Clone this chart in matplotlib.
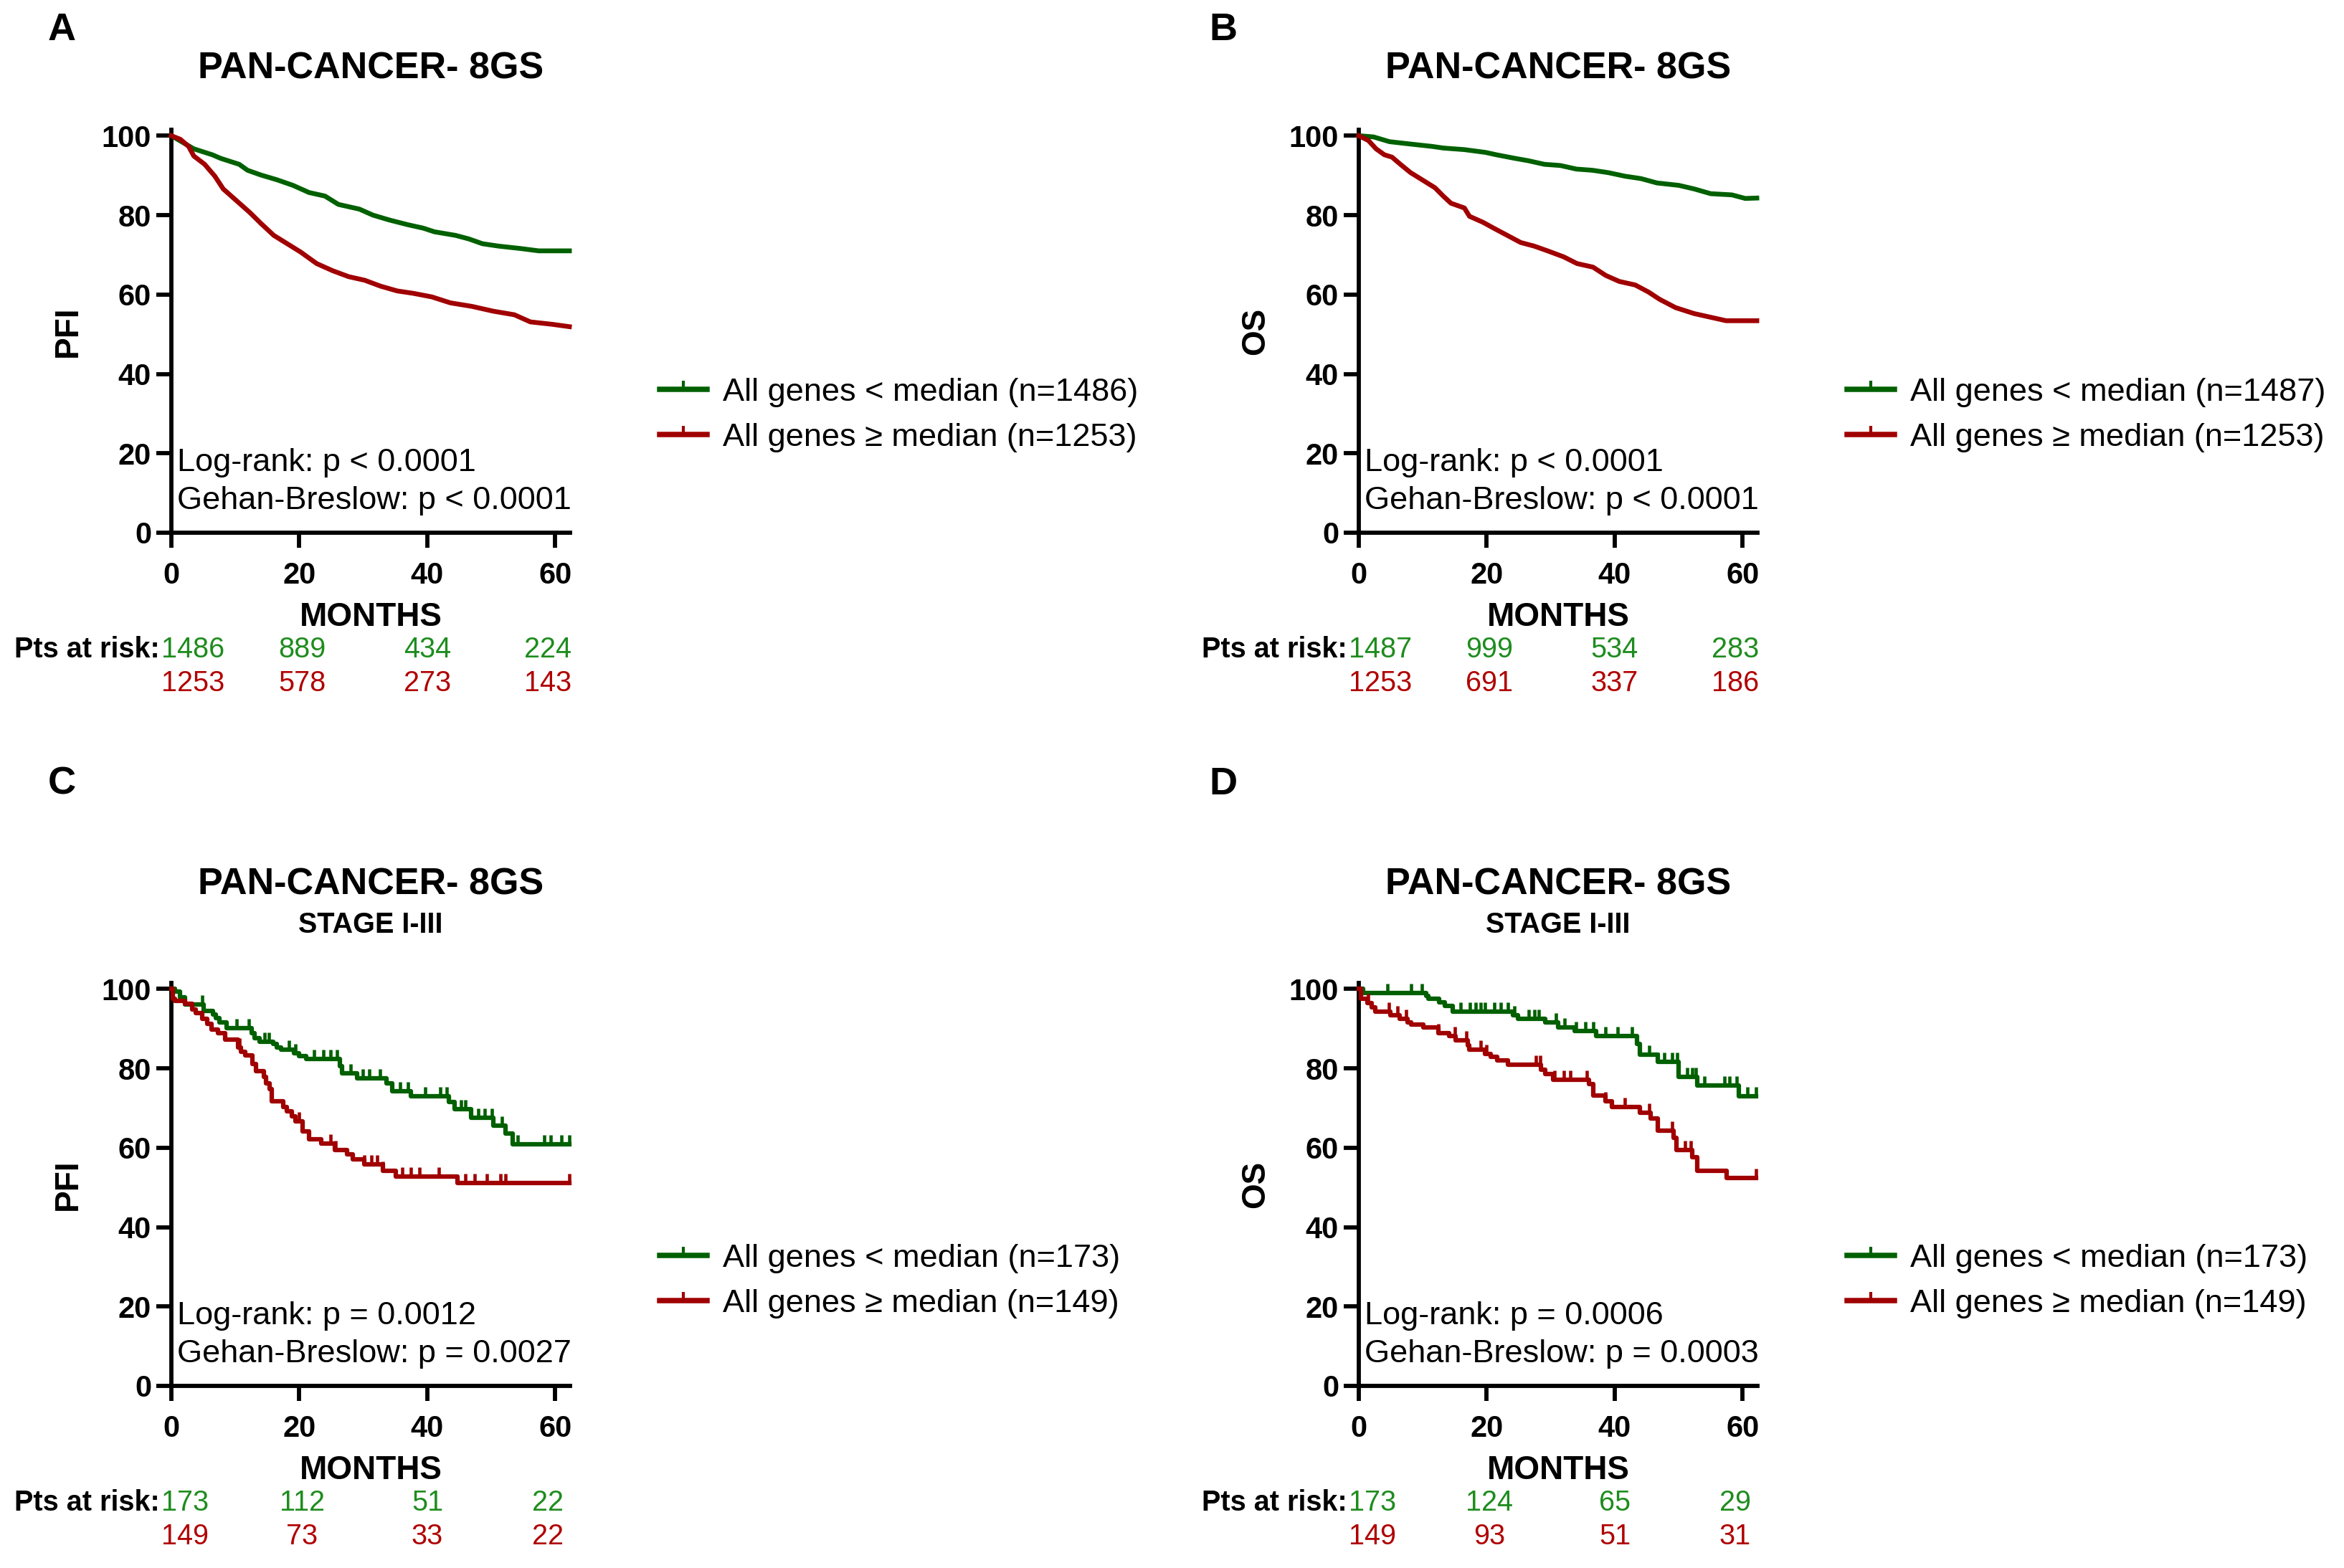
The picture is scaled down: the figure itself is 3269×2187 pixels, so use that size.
import numpy as np
import matplotlib
matplotlib.use("Agg")
import matplotlib.pyplot as plt
from matplotlib.lines import Line2D

plt.rcParams['font.family'] = ['Liberation Sans', 'DejaVu Sans']

# colours
GREEN = '#006000'
RED = '#A00000'
GREEN_TXT = '#1E8C1E'
RED_TXT = '#B00000'

# ---- Panel A: PFI, all stages (months, % surviving) ----
a_t_lo = [0, 3.5, 6.4, 7.7, 10.6, 11.9, 14, 16.5, 19, 21.5, 24, 26.1, 29.4, 31.5, 34,
          36.9, 39.4, 41.1, 44.4, 46.5, 48.6, 51.1, 54.5, 57.4, 62.2]
a_s_lo = [100, 96.7, 95.2, 94.3, 92.8, 91.3, 90.1, 88.9, 87.5, 85.7, 84.8, 82.7, 81.5, 80,
          78.8, 77.6, 76.7, 75.8, 74.9, 74, 72.8, 72.2, 71.6, 71, 71]
a_t_hi = [0, 1.4, 2.7, 3.5, 5.2, 6.8, 8.1, 10.2, 12.3, 14, 16, 18.1, 20.2, 22.7, 25.2,
          27.7, 30.2, 32.7, 35.3, 37.8, 40.7, 43.6, 47, 50.3, 53.6, 56.1, 59.5, 62.2]
a_s_hi = [100, 99.1, 97.3, 94.9, 92.8, 89.8, 86.6, 83.6, 80.6, 77.9, 74.9, 72.8, 70.7,
          67.8, 66, 64.5, 63.6, 62.1, 60.9, 60.3, 59.4, 57.9, 57, 55.8, 54.9, 53.1, 52.5, 51.9]
a_risk_lo = [1486, 889, 434, 224]
a_risk_hi = [1253, 578, 273, 143]

# ---- Panel B: OS, all stages ----
b_t_lo = [0, 2.3, 4.8, 8.1, 11.5, 13.2, 16.5, 19.8, 21.5, 24.4, 26.5, 29, 31.5, 34, 36.5,
          39, 41.6, 44.1, 46.6, 50, 52.4, 55, 58.3, 60.4, 62.2]
b_s_lo = [100, 99.7, 98.5, 97.9, 97.3, 96.9, 96.5, 95.8, 95.2, 94.3, 93.7, 92.8, 92.5,
          91.6, 91.3, 90.7, 89.8, 89.2, 88.1, 87.5, 86.6, 85.4, 85.1, 84.2, 84.3]
b_t_hi = [0, 1.5, 2.7, 4, 5.2, 6.5, 8.1, 10.2, 11.9, 13.2, 14.4, 16.5, 17.3, 19.4, 21.1,
          23.2, 25.3, 27.4, 29.5, 32, 34.1, 36.6, 38.6, 40.7, 43.2, 45.3, 47, 49.5, 52.4,
          54.9, 57.4, 62.2]
b_s_hi = [100, 98.8, 96.7, 95.2, 94.6, 92.8, 90.7, 88.6, 86.9, 84.8, 83, 81.8, 79.7, 78.2,
          76.7, 74.9, 73.1, 72.2, 71, 69.5, 67.8, 66.9, 64.8, 63.3, 62.4, 60.6, 58.8, 56.7,
          55.2, 54.3, 53.4, 53.4]
b_risk_lo = [1487, 999, 534, 283]
b_risk_hi = [1253, 691, 337, 186]

# ---- Panel C: PFI, stage I-III (step times and levels) ----
c_t_lo = [0, 0.6, 1.3, 2.1, 5.0, 6.5, 6.9, 7.5, 8.6, 12.5, 13.0, 13.8, 15.9, 16.5, 17.1,
          19.2, 20.0, 21.1, 26.3, 26.7, 29.0, 33.6, 34.5, 37.4, 43.4, 44.3, 46.8, 50.3,
          52.2, 53.3]
c_s_lo = [100, 99.3, 97.8, 96.0, 94.5, 93.6, 92.7, 91.5, 90.2, 88.8, 87.6, 86.7, 86.1,
          85.3, 84.7, 83.8, 83.0, 82.4, 80.5, 78.7, 77.5, 76.3, 74.3, 73.0, 71.5, 69.7,
          67.6, 65.6, 63.5, 60.9]
c_cens_lo = [4.8, 10.2, 12.1, 14.6, 15.2, 18.4, 19.4, 22.3, 23.8, 24.9, 25.9, 28, 29.9,
             30.9, 32.6, 35.7, 37, 39.7, 42, 43, 45.3, 45.9, 48, 49, 50.1, 51.6, 54.1,
             58.3, 59.3, 61, 62.2]
c_t_hi = [0, 0.2, 0.6, 2.1, 3.3, 3.8, 4.8, 5.6, 6.3, 7.3, 8.4, 10.4, 10.9, 11.5, 12.7,
          13.2, 14.4, 14.8, 15.3, 15.7, 17.5, 18.0, 18.8, 19.4, 20.5, 21.5, 23.4, 25.5,
          27.4, 28.4, 30.1, 33.0, 35.1, 44.7]
c_s_hi = [100, 97.5, 96.9, 96.3, 94.8, 93.9, 92.5, 91.2, 89.7, 88.8, 87.2, 85.3, 84.2,
          83.3, 81.1, 79.3, 77.8, 76.3, 74.7, 71.7, 70.3, 69.1, 67.9, 66.7, 64.2, 62.2,
          61.0, 59.5, 58.3, 57.1, 55.8, 54.1, 52.8, 51.2]
c_cens_hi = [10.7, 20, 24.9, 25.7, 30.1, 31.3, 32.2, 33, 36.1, 37.4, 38.8, 41.8, 45.9,
             47.4, 49.3, 51.4, 52.2, 62.2]
c_end = 62.2
c_risk_lo = [173, 112, 51, 22]
c_risk_hi = [149, 73, 33, 22]

# ---- Panel D: OS, stage I-III ----
d_t_lo = [0, 0.7, 10.5, 10.9, 12.6, 13.4, 14.7, 24.1, 24.9, 29.1, 31.2, 33.7, 37.1,
          43.5, 43.9, 46.7, 50.0, 52.9, 59.4]
d_s_lo = [100, 99.0, 98.2, 97.6, 96.6, 95.7, 94.2, 93.3, 92.4, 91.5, 90.3, 89.4, 88.1,
          86.1, 83.5, 81.7, 77.8, 75.6, 72.9]
d_cens_lo = [4.5, 8.2, 9.9, 15.9, 17.4, 18.3, 19.1, 19.7, 21.2, 22.2, 23.3, 24.3, 26.6,
             27.4, 28.1, 30.8, 32.2, 33.9, 35.4, 36.6, 38.5, 40.4, 42.7, 45.4, 46.7, 47.7,
             49, 49.8, 51.3, 52.1, 52.7, 54, 57.1, 57.9, 59, 60.7, 62.1]
d_t_hi = [0, 0.3, 1.3, 2.0, 2.6, 4.9, 6.4, 7.6, 8.2, 10.1, 12.4, 14.1, 15.1, 17.0, 17.2,
          19.7, 20.6, 21.6, 23.3, 28.5, 29.1, 30.4, 36.0, 36.6, 38.5, 39.6, 43.9, 45.6,
          46.7, 49.2, 49.6, 52.1, 52.9, 57.5]
d_s_hi = [100, 97.5, 96.4, 95.4, 94.2, 93.3, 92.5, 91.6, 91.0, 90.3, 88.8, 88.1, 87.0,
          85.8, 84.7, 83.6, 82.9, 82.0, 80.9, 79.6, 78.5, 77.2, 76.0, 73.1, 71.7, 70.3,
          68.8, 67.3, 64.3, 62.5, 59.4, 57.6, 54.2, 52.4]
d_cens_hi = [1.5, 4.7, 6.1, 7.4, 12.4, 15, 16.8, 19.1, 19.9, 27.7, 28.3, 30.6, 32, 33,
             35.6, 38.5, 41.6, 45.4, 49, 51, 51.9, 62.1]
d_end = 62.1
d_risk_lo = [173, 124, 65, 29]
d_risk_hi = [149, 93, 51, 31]

risk_months = [-1.6, 20.4, 40.0, 58.8]
risk_ha = ['left', 'center', 'center', 'center']

TITLE = 'PAN-CANCER- 8GS'
SUBTITLE = 'STAGE I-III'

W, H = 3269, 2187
fig = plt.figure(figsize=(W / 300, H / 300), dpi=300)

ax_w, ax_h = 556 / W, 562 / H
ax_a = fig.add_axes([239 / W, (H - 743) / H, ax_w, ax_h])
ax_b = fig.add_axes([1895 / W, (H - 743) / H, ax_w, ax_h])
ax_c = fig.add_axes([239 / W, (H - 1933) / H, ax_w, ax_h])
ax_d = fig.add_axes([1895 / W, (H - 1933) / H, ax_w, ax_h])


def step_value(t, s, x):
    idx = np.searchsorted(t, x, side='right') - 1
    return np.asarray(s)[idx]


def draw_panel(ax, t_lo, s_lo, t_hi, s_hi, ylabel, n_lo, n_hi, pvals, risk_lo, risk_hi,
               stage=False, cens_lo=None, cens_hi=None, end=None, leg_y=0.292):
    if stage:
        ax.plot(list(t_lo) + [end], list(s_lo) + [s_lo[-1]], color=GREEN, lw=1.5,
                drawstyle='steps-post', clip_on=False, zorder=3)
        ax.plot(list(t_hi) + [end], list(s_hi) + [s_hi[-1]], color=RED, lw=1.5,
                drawstyle='steps-post', clip_on=False, zorder=3)
        ax.plot(cens_lo, step_value(t_lo, s_lo, cens_lo), ls='none', marker=2, ms=3.2,
                mew=1.1, color=GREEN, clip_on=False, zorder=3)
        ax.plot(cens_hi, step_value(t_hi, s_hi, cens_hi), ls='none', marker=2, ms=3.2,
                mew=1.1, color=RED, clip_on=False, zorder=3)
    else:
        ax.plot(t_lo, s_lo, color=GREEN, lw=1.6, clip_on=False, zorder=3)
        ax.plot(t_hi, s_hi, color=RED, lw=1.6, clip_on=False, zorder=3)

    ax.set_xlim(0, 62.3)
    ax.set_ylim(0, 101.5)
    ax.set_xticks([0, 20, 40, 60])
    ax.set_yticks([0, 20, 40, 60, 80, 100])
    for side in ['top', 'right']:
        ax.spines[side].set_visible(False)
    for side in ['left', 'bottom']:
        ax.spines[side].set_linewidth(1.4)
    ax.tick_params(axis='both', length=5, width=1.4, labelsize=10)
    ax.tick_params(axis='x', pad=4.5)
    ax.tick_params(axis='y', pad=1.7)
    for lab in ax.get_xticklabels() + ax.get_yticklabels():
        lab.set_fontweight('bold')
    ax.set_xlabel('MONTHS', fontsize=11, fontweight='bold', labelpad=4)
    ax.set_ylabel(ylabel, fontsize=11, fontweight='bold', labelpad=6)

    ax.text(0.9, 17.6, 'Log-rank: p ' + pvals[0], fontsize=10.85, ha='left', va='center')
    ax.text(0.9, 8.1, 'Gehan-Breslow: p ' + pvals[1], fontsize=10.85, ha='left',
            va='center')

    handles = [Line2D([], [], color=GREEN, lw=1.8, marker=2, ms=3, mew=1.0),
               Line2D([], [], color=RED, lw=1.8, marker=2, ms=3, mew=1.0)]
    labels = ['All genes < median (n=%d)' % n_lo, 'All genes \u2265 median (n=%d)' % n_hi]
    ax.legend(handles, labels, loc='center left', bbox_to_anchor=(1.225, leg_y),
              frameon=False, fontsize=10.85, handlelength=1.45, handletextpad=0.5,
              labelspacing=0.47, borderpad=0, borderaxespad=0, numpoints=1)

    ax.text(-1.8, -29.5, 'Pts at risk:', fontsize=9.5, fontweight='bold', ha='right',
            va='center')
    for x, ha, v_lo, v_hi in zip(risk_months, risk_ha, risk_lo, risk_hi):
        ax.text(x, -29.5, str(v_lo), color=GREEN_TXT, fontsize=9.5, ha=ha, va='center')
        ax.text(x, -38.0, str(v_hi), color=RED_TXT, fontsize=9.5, ha=ha, va='center')

    if stage:
        ax.text(0.5, 1.243, TITLE, transform=ax.transAxes, ha='center', va='center',
                fontsize=12.5, fontweight='bold')
        ax.text(0.5, 1.144, SUBTITLE, transform=ax.transAxes, ha='center', va='center',
                fontsize=9.5, fontweight='bold')
    else:
        ax.text(0.5, 1.152, TITLE, transform=ax.transAxes, ha='center', va='center',
                fontsize=12.5, fontweight='bold')


draw_panel(ax_a, a_t_lo, a_s_lo, a_t_hi, a_s_hi, 'PFI', 1486, 1253,
           ['< 0.0001', '< 0.0001'], a_risk_lo, a_risk_hi)
draw_panel(ax_b, b_t_lo, b_s_lo, b_t_hi, b_s_hi, 'OS', 1487, 1253,
           ['< 0.0001', '< 0.0001'], b_risk_lo, b_risk_hi)
draw_panel(ax_c, c_t_lo, c_s_lo, c_t_hi, c_s_hi, 'PFI', 173, 149,
           ['= 0.0012', '= 0.0027'], c_risk_lo, c_risk_hi, stage=True,
           cens_lo=c_cens_lo, cens_hi=c_cens_hi, end=c_end, leg_y=0.26)
draw_panel(ax_d, d_t_lo, d_s_lo, d_t_hi, d_s_hi, 'OS', 173, 149,
           ['= 0.0006', '= 0.0003'], d_risk_lo, d_risk_hi, stage=True,
           cens_lo=d_cens_lo, cens_hi=d_cens_hi, end=d_end, leg_y=0.26)

# panel letters
for letter, x, y in [('A', 86, 42), ('B', 1706, 42), ('C', 86, 1094), ('D', 1706, 1094)]:
    fig.text(x / W, 1 - y / H, letter, ha='center', va='center', fontsize=13,
             fontweight='bold')

fig.savefig('out.png', dpi=300)
